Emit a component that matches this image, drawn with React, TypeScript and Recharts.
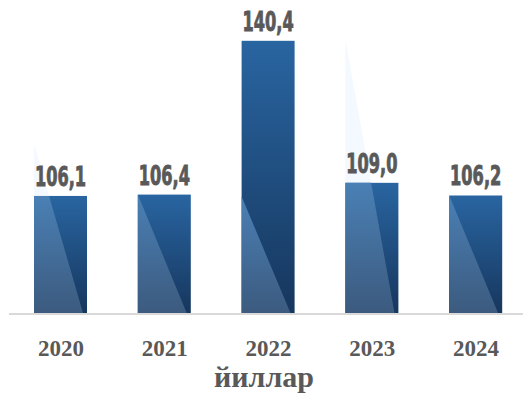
import { Bar, BarChart, LabelList, XAxis, YAxis } from "recharts";

const years = ["2020", "2021", "2022", "2023", "2024"];
const values = [106.1, 106.4, 140.4, 109.0, 106.2];
const axisTitle = "йиллар";

const data = years.map((year, i) => ({ year, value: values[i] }));

// how high the glossy triangle reaches, relative to each bar's height
const shineRise = [1.44, 1.0, 0.43, 2.09, 1.0];

function GlassBar(props: any) {
  const { x, y, width, height, index } = props;
  if (!height) return null;
  const bottom = y + height;
  const apexY = bottom - shineRise[index] * height;
  const baseW = width * 0.93;
  const pts: string[] = [];
  if (apexY < y) {
    const dx = (baseW * (y - apexY)) / (bottom - apexY);
    pts.push(`${x},${y}`, `${x + dx},${y}`);
  } else {
    pts.push(`${x},${apexY}`);
  }
  pts.push(`${x + baseW},${bottom}`, `${x},${bottom}`);
  return (
    <g>
      <polygon points={`${x},${apexY} ${x + baseW},${bottom} ${x},${bottom}`} fill="#f3f9fe" />
      <rect x={x} y={bottom + 2} width={width} height={12} fill="url(#reflect)" />
      <rect x={x} y={y} width={width} height={height} fill="url(#barDark)" />
      <polygon points={pts.join(" ")} fill="url(#barLight)" />
    </g>
  );
}

function ValueLabel(props: any) {
  const { x, y, width, value } = props;
  return (
    <g transform={`translate(${x + width / 2}, ${y - 10}) scale(1, 1.5)`}>
      <text
        x={0}
        y={0}
        textAnchor="middle"
        fill="#595959"
        stroke="#595959"
        strokeWidth={0.6}
        fontSize={18}
        fontWeight="bold"
        fontFamily="'DejaVu Sans Condensed', 'Arial Narrow', sans-serif"
      >
        {Number(value).toFixed(1).replace(".", ",")}
      </text>
    </g>
  );
}

function YearTick(props: any) {
  const { x, y, payload } = props;
  return (
    <text
      x={x}
      y={y + 34}
      textAnchor="middle"
      fill="#595959"
      fontSize={23}
      fontWeight="bold"
      fontFamily="'Liberation Serif', 'Times New Roman', serif"
    >
      {payload.value}
    </text>
  );
}

function AxisTitle(props: any) {
  const { viewBox } = props;
  return (
    <text
      x={264}
      y={viewBox.y + viewBox.height - 7}
      textAnchor="middle"
      fill="#595959"
      fontSize={30}
      fontWeight="bold"
      fontFamily="'Liberation Serif', 'Times New Roman', serif"
    >
      {axisTitle}
    </text>
  );
}

export default function App() {
  return (
    <div style={{ position: "absolute", left: 0, top: 0, width: 523, height: 394, background: "#fff" }}>
      <BarChart width={523} height={394} data={data} margin={{ top: 20, right: -5, left: 9, bottom: 0 }}>
        <defs>
          <linearGradient id="barDark" x1="0" y1="0" x2="0" y2="1">
            <stop offset="0%" stopColor="#2965a1" />
            <stop offset="100%" stopColor="#16365d" />
          </linearGradient>
          <linearGradient id="barLight" x1="0" y1="0" x2="0" y2="1">
            <stop offset="0%" stopColor="#4a80b5" />
            <stop offset="100%" stopColor="#3c5a7e" />
          </linearGradient>
          <linearGradient id="reflect" x1="0" y1="0" x2="0" y2="1">
            <stop offset="0%" stopColor="#edf6fd" />
            <stop offset="100%" stopColor="#f9fcfe" />
          </linearGradient>
        </defs>
        <XAxis
          dataKey="year"
          height={80}
          tickLine={false}
          axisLine={{ stroke: "#d9d9d9", strokeWidth: 2 }}
          tick={<YearTick />}
          interval={0}
          label={<AxisTitle />}
        />
        <YAxis hide domain={[80, 145]} allowDataOverflow />
        <Bar dataKey="value" barSize={53} shape={<GlassBar />} isAnimationActive={false}>
          <LabelList dataKey="value" content={<ValueLabel />} />
        </Bar>
      </BarChart>
    </div>
  );
}
